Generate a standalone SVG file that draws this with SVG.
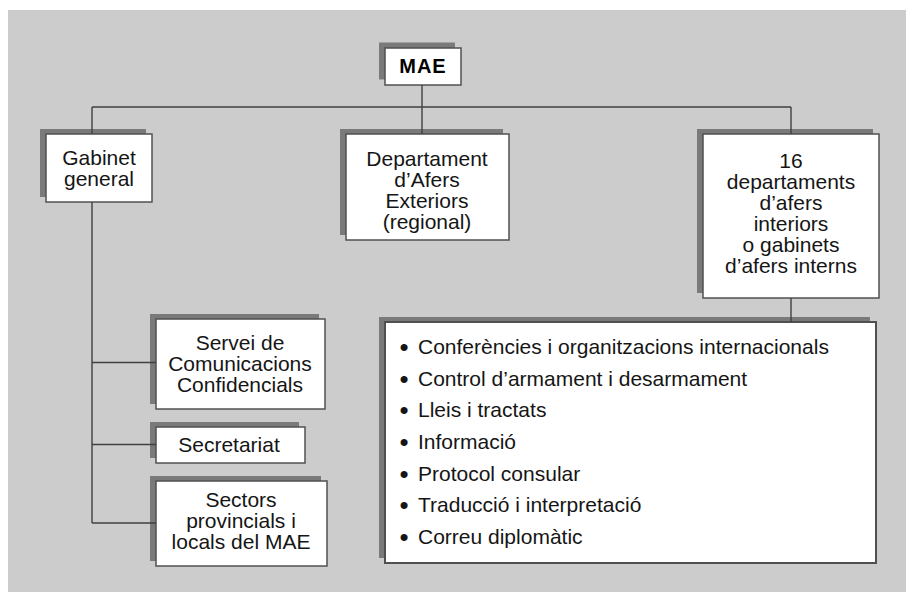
<svg xmlns="http://www.w3.org/2000/svg" width="906" height="592" viewBox="0 0 906 592">
<style>
.bg{fill:#cccccc}
.sh{fill:#7a7a7a}
.bx{fill:#ffffff;stroke:#505050;stroke-width:1.5}
.t{font-family:"Liberation Sans",Arial,sans-serif;font-size:21px;fill:#151515;text-anchor:middle}
.l{text-anchor:start}
.b{text-anchor:middle;font-size:26px}
.mae{font-weight:bold;font-size:20px;letter-spacing:1px;fill:#000}
.conn{stroke:#404040;stroke-width:1.4;fill:none}
</style>
<rect class="bg" x="8" y="10" width="898" height="582"/>
<g id="node-mae">
<rect class="sh" x="379" y="42.5" width="76" height="37"/>
<rect class="bx" x="385" y="48" width="76" height="37"/>
<text class="t mae" x="423" y="72.5">MAE</text>
</g>
<g id="node-gabinet">
<rect class="sh" x="40" y="129" width="106" height="68"/>
<rect class="bx" x="46" y="134" width="106" height="68"/>
<text class="t" x="99" y="165">Gabinet</text>
<text class="t" x="99" y="186">general</text>
</g>
<g id="node-departament">
<rect class="sh" x="340" y="129" width="163" height="106"/>
<rect class="bx" x="346" y="134" width="163" height="106"/>
<text class="t" x="427" y="166">Departament</text>
<text class="t" x="427" y="187">d’Afers</text>
<text class="t" x="427" y="208">Exteriors</text>
<text class="t" x="427" y="229">(regional)</text>
</g>
<g id="node-16dept">
<rect class="sh" x="697" y="129" width="176" height="164"/>
<rect class="bx" x="703" y="134" width="176" height="164"/>
<text class="t" x="791" y="167.5">16</text>
<text class="t" x="791" y="188.5">departaments</text>
<text class="t" x="791" y="209.5">d’afers</text>
<text class="t" x="791" y="230.5">interiors</text>
<text class="t" x="791" y="251.5">o gabinets</text>
<text class="t" x="791" y="272.5">d’afers interns</text>
</g>
<g id="node-servei">
<rect class="sh" x="150" y="314" width="169" height="90"/>
<rect class="bx" x="156" y="319" width="169" height="90"/>
<text class="t" x="240" y="350">Servei de</text>
<text class="t" x="240" y="371">Comunicacions</text>
<text class="t" x="240" y="392">Confidencials</text>
</g>
<g id="node-secretariat">
<rect class="sh" x="150" y="422" width="149" height="36"/>
<rect class="bx" x="156" y="427" width="149" height="36"/>
<text class="t" x="229" y="452">Secretariat</text>
</g>
<g id="node-sectors">
<rect class="sh" x="150" y="476" width="171" height="85"/>
<rect class="bx" x="156" y="481" width="171" height="85"/>
<text class="t" x="241" y="507">Sectors</text>
<text class="t" x="241" y="528">provincials i</text>
<text class="t" x="241" y="549">locals del MAE</text>
</g>
<g id="node-list">
<rect class="sh" x="379" y="317" width="491" height="241"/>
<rect class="bx" x="385" y="322" width="491" height="241" style="stroke-width:2"/>
<text class="t b" x="404" y="356">•</text><text class="t l" x="418" y="354">Conferències i organitzacions internacionals</text>
<text class="t b" x="404" y="387.7">•</text><text class="t l" x="418" y="385.7">Control d’armament i desarmament</text>
<text class="t b" x="404" y="419.3">•</text><text class="t l" x="418" y="417.3">Lleis i tractats</text>
<text class="t b" x="404" y="451">•</text><text class="t l" x="418" y="449">Informació</text>
<text class="t b" x="404" y="482.7">•</text><text class="t l" x="418" y="480.7">Protocol consular</text>
<text class="t b" x="404" y="514.3">•</text><text class="t l" x="418" y="512.3">Traducció i interpretació</text>
<text class="t b" x="404" y="546">•</text><text class="t l" x="418" y="544">Correu diplomàtic</text>
</g>
<g id="connectors">
<path class="conn" d="M422 85V107M92 107H791M92 107V134M92 202V523M92 362.5H156M92 444.5H156M92 523H156M422 107V134M791 107V134M791 298V322"/>
</g>
</svg>
